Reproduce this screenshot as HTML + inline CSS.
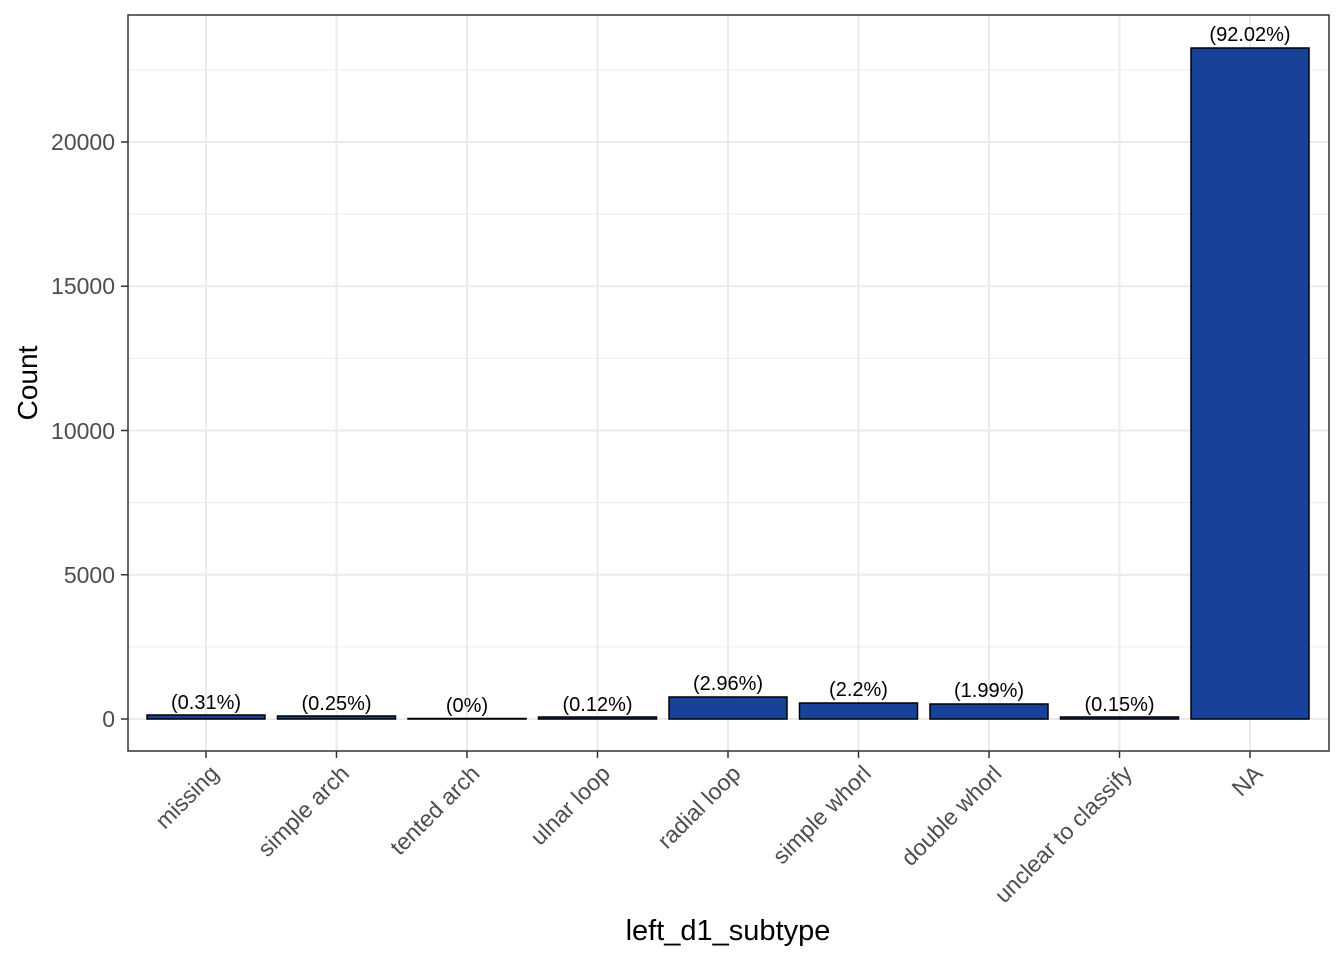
<!DOCTYPE html>
<html><head><meta charset="utf-8"><style>body{margin:0;background:#fff}svg{display:block}text{font-family:"Liberation Sans",Arial,sans-serif}</style></head>
<body>
<svg width="1344" height="960" viewBox="0 0 1344 960" xmlns="http://www.w3.org/2000/svg">
<rect width="1344" height="960" fill="#fff"/>
<g stroke="#ebebeb" stroke-width="1">
<line x1="128" x2="1329" y1="646.9" y2="646.9"/><line x1="128" x2="1329" y1="502.6" y2="502.6"/>
<line x1="128" x2="1329" y1="358.4" y2="358.4"/><line x1="128" x2="1329" y1="214.1" y2="214.1"/>
<line x1="128" x2="1329" y1="69.9" y2="69.9"/>
</g>
<g stroke="#ebebeb" stroke-width="2">
<line x1="128" x2="1329" y1="719" y2="719"/><line x1="128" x2="1329" y1="574.75" y2="574.75"/>
<line x1="128" x2="1329" y1="430.5" y2="430.5"/><line x1="128" x2="1329" y1="286.25" y2="286.25"/>
<line x1="128" x2="1329" y1="142" y2="142"/>
<line y1="15" y2="751" x1="206" x2="206"/><line y1="15" y2="751" x1="336.5" x2="336.5"/>
<line y1="15" y2="751" x1="467" x2="467"/><line y1="15" y2="751" x1="597.5" x2="597.5"/>
<line y1="15" y2="751" x1="728" x2="728"/><line y1="15" y2="751" x1="858.5" x2="858.5"/>
<line y1="15" y2="751" x1="989" x2="989"/><line y1="15" y2="751" x1="1119.5" x2="1119.5"/>
<line y1="15" y2="751" x1="1250" x2="1250"/>
</g>
<g fill="#174297" stroke="#000" stroke-width="1.5">
<rect x="147" y="715" width="118" height="4"/>
<rect x="277.5" y="716" width="118" height="3"/>
<rect x="408" y="718.5" width="118" height="0.5"/>
<rect x="538.5" y="717" width="118" height="2"/>
<rect x="669" y="697" width="118" height="22"/>
<rect x="799.5" y="703" width="118" height="16"/>
<rect x="930" y="704" width="118" height="15"/>
<rect x="1060.5" y="717" width="118" height="2"/>
<rect x="1191" y="48" width="118" height="671"/>
</g>
<g font-size="20" text-anchor="middle" fill="#000">
<text x="206" y="709">(0.31%)</text><text x="336.5" y="710">(0.25%)</text>
<text x="467" y="712">(0%)</text><text x="597.5" y="711">(0.12%)</text>
<text x="728" y="690">(2.96%)</text><text x="858.5" y="696">(2.2%)</text>
<text x="989" y="697">(1.99%)</text><text x="1119.5" y="711">(0.15%)</text>
<text x="1250" y="41">(92.02%)</text>
</g>
<rect x="128" y="15" width="1201" height="736" fill="none" stroke="#333" stroke-width="1.5"/>
<g stroke="#333" stroke-width="1.5">
<line x1="121" x2="128" y1="719" y2="719"/><line x1="121" x2="128" y1="574.75" y2="574.75"/>
<line x1="121" x2="128" y1="430.5" y2="430.5"/><line x1="121" x2="128" y1="286.25" y2="286.25"/>
<line x1="121" x2="128" y1="142" y2="142"/>
<line y1="751" y2="758" x1="206" x2="206"/><line y1="751" y2="758" x1="336.5" x2="336.5"/>
<line y1="751" y2="758" x1="467" x2="467"/><line y1="751" y2="758" x1="597.5" x2="597.5"/>
<line y1="751" y2="758" x1="728" x2="728"/><line y1="751" y2="758" x1="858.5" x2="858.5"/>
<line y1="751" y2="758" x1="989" x2="989"/><line y1="751" y2="758" x1="1119.5" x2="1119.5"/>
<line y1="751" y2="758" x1="1250" x2="1250"/>
</g>
<g font-size="23" fill="#4d4d4d" text-anchor="end">
<text x="115" y="727">0</text><text x="115" y="583">5000</text><text x="115" y="439">10000</text>
<text x="115" y="294">15000</text><text x="115" y="150">20000</text>
</g>
<g font-size="23" fill="#4d4d4d" text-anchor="end">
<text transform="translate(220,775) rotate(-45)">missing</text>
<text transform="translate(350.5,775) rotate(-45)">simple arch</text>
<text transform="translate(481,775) rotate(-45)">tented arch</text>
<text transform="translate(611.5,775) rotate(-45)">ulnar loop</text>
<text transform="translate(742,775) rotate(-45)">radial loop</text>
<text transform="translate(872.5,775) rotate(-45)">simple whorl</text>
<text transform="translate(1003,775) rotate(-45)">double whorl</text>
<text transform="translate(1133.5,775) rotate(-45)">unclear to classify</text>
<text transform="translate(1264,775) rotate(-45)">NA</text>
</g>
<text x="728" y="940" font-size="29" text-anchor="middle" fill="#000">left_d1_subtype</text>
<text transform="translate(37,383) rotate(-90)" font-size="28" text-anchor="middle" fill="#000">Count</text>
</svg>
</body></html>
